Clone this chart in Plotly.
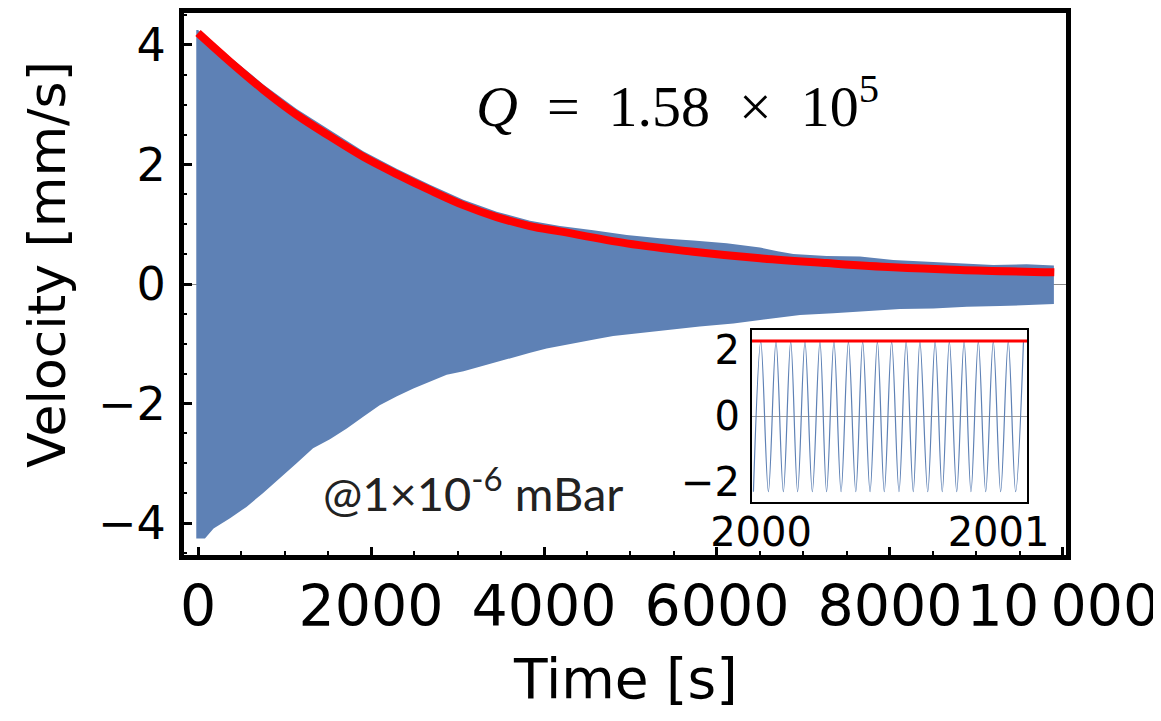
import plotly.graph_objects as go

# ---- main decay envelope ----
env_up_t = [-20, 0, 370, 755, 1141, 1526, 1911, 2297, 2682, 3067, 3453, 3838, 4185, 4570,
            4956, 5341, 5727, 6112, 6497, 6700, 6882, 7268, 7653, 8038, 8423, 8809,
            9194, 9580, 9895]
env_up_v = [4.25, 4.25, 3.80, 3.34, 2.93, 2.57, 2.22, 1.93, 1.66, 1.41, 1.21, 1.06, 0.97, 0.90,
            0.82, 0.765, 0.73, 0.68, 0.61, 0.55, 0.50, 0.47, 0.46, 0.40, 0.37, 0.35,
            0.32, 0.33, 0.31]

env_lo_t = [-20, 80, 180, 370, 560, 750, 950, 1140, 1330, 1525, 1720, 1910, 2100, 2300, 2490,
            2680, 2875, 3070, 3260, 3450, 3645, 3840, 4030, 4220, 4420, 4610, 4800, 5030,
            5420, 5800, 6190, 6570, 6960, 7345, 7730, 8115, 8500, 8890, 9270, 9660, 9895]
env_lo_v = [-4.26, -4.26, -4.09, -3.92, -3.73, -3.50, -3.25, -3.00, -2.75, -2.60, -2.42, -2.22,
            -2.03, -1.88, -1.75, -1.63, -1.52, -1.46, -1.38, -1.30, -1.23, -1.15, -1.08, -1.02,
            -0.97, -0.92, -0.87, -0.83, -0.77, -0.71, -0.66, -0.59, -0.52, -0.49, -0.46,
            -0.42, -0.41, -0.38, -0.37, -0.35, -0.335]

# ---- exponential fit curve ----
fit_t = [0, 370, 755, 1141, 1526, 1911, 2297, 2682, 3067, 3453, 3838, 4185, 4956, 5727,
         6497, 7268, 8038, 8809, 9900]
fit_v = [4.20, 3.72, 3.25, 2.83, 2.47, 2.13, 1.84, 1.57, 1.32, 1.12, 0.97, 0.88, 0.68, 0.54,
         0.43, 0.35, 0.28, 0.235, 0.195]

# ---- inset: oscillation extremes around t = 2000 s ----
inset_peak_t = [1999.999, 2000.063, 2000.125, 2000.185, 2000.248, 2000.307, 2000.368,
                2000.428, 2000.490, 2000.550, 2000.611, 2000.669, 2000.733, 2000.793,
                2000.855, 2000.915, 2000.978, 2001.041, 2001.105]
inset_trough_t = [1999.968, 2000.031, 2000.094, 2000.154, 2000.216, 2000.276, 2000.337,
                  2000.399, 2000.459, 2000.519, 2000.581, 2000.641, 2000.702, 2000.763,
                  2000.824, 2000.884, 2000.946, 2001.009, 2001.072]
inset_peak_v = 2.24
inset_trough_v = -2.28
inset_fit_t = [1999.962, 2001.12]
inset_fit_v = [2.26, 2.26]

x_ticks = [0, 2000, 4000, 6000, 8000, 10000]
x_ticktext = ["0", "2000", "4000", "6000", "8000", "10\u2009000"]
y_ticks = [-4, -2, 0, 2, 4]
inset_x_ticks = [2000, 2001]
inset_y_ticks = [-2, 0, 2]

BLUE = "#5E81B5"
FONT = "DejaVu Sans"

fig = go.Figure()

# envelope filled polygon
poly_t = env_up_t + env_lo_t[::-1]
poly_v = env_up_v + env_lo_v[::-1]
fig.add_trace(go.Scatter(x=poly_t, y=poly_v, fill="toself", fillcolor=BLUE,
                         mode="lines", line=dict(width=0, color=BLUE),
                         hoverinfo="skip", showlegend=False))
fig.add_trace(go.Scatter(x=fit_t, y=fit_v, mode="lines",
                         line=dict(color="#FF0000", width=8, shape="spline", smoothing=1),
                         showlegend=False))

# inset oscillation
ext = sorted([(t, inset_peak_v) for t in inset_peak_t] +
             [(t, inset_trough_v) for t in inset_trough_t])
fig.add_trace(go.Scatter(x=[e[0] for e in ext], y=[e[1] for e in ext], mode="lines",
                         line=dict(color=BLUE, width=1.2, shape="spline", smoothing=1),
                         xaxis="x2", yaxis="y2", showlegend=False))
fig.add_trace(go.Scatter(x=inset_fit_t, y=inset_fit_v, mode="lines",
                         line=dict(color="#FF0000", width=3),
                         xaxis="x2", yaxis="y2", showlegend=False))

# the page body has an 8px margin, so the figure is 8px smaller than the window
fig.update_layout(
    width=1153, height=713,
    margin=dict(l=176, r=95, t=5, b=166, autoexpand=False),
    paper_bgcolor="white", plot_bgcolor="white",
    showlegend=False,
    xaxis=dict(range=[-162, 10035], tickvals=x_ticks, ticktext=x_ticktext,
               ticks="inside", ticklen=8, tickwidth=3, tickcolor="black",
               minor=dict(dtick=500, tick0=0, ticks="inside", ticklen=4, tickwidth=2,
                          tickcolor="black"),
               showline=True, linewidth=5, linecolor="black", mirror=True,
               showgrid=False, zeroline=False, automargin=False,
               tickfont=dict(family=FONT, size=57, color="black"),
               ticklabelstandoff=-2),
    yaxis=dict(range=[-4.535, 4.535], tickvals=y_ticks,
               ticks="inside", ticklen=8, tickwidth=3, tickcolor="black",
               minor=dict(dtick=0.5, tick0=0, ticks="inside", ticklen=3, tickwidth=2,
                          tickcolor="black"),
               showline=True, linewidth=5, linecolor="black", mirror=True,
               showgrid=False, zeroline=True, zerolinecolor="#8a8a8a", zerolinewidth=1,
               automargin=False,
               tickfont=dict(family=FONT, size=46, color="black"),
               ticklabelstandoff=4),
    xaxis2=dict(domain=[0.644, 0.9558], anchor="y2", range=[1999.962, 2001.12],
                tickvals=inset_x_ticks, ticks="", showline=True, linewidth=2,
                linecolor="black", mirror=True, showgrid=False, zeroline=False,
                automargin=False,
                tickfont=dict(family=FONT, size=40, color="black"), ticklabelstandoff=-6),
    yaxis2=dict(domain=[0.0978, 0.415], anchor="x2", range=[-2.59, 2.59],
                tickvals=inset_y_ticks, ticks="", showline=True, linewidth=2,
                linecolor="black", mirror=True, showgrid=False, zeroline=True,
                zerolinecolor="#9a9a9a", zerolinewidth=1, automargin=False,
                tickfont=dict(family=FONT, size=40, color="black"), ticklabelstandoff=2),
    annotations=[
        dict(text="Time [s]", xref="paper", yref="paper", x=0.501, y=-0.229,
             xanchor="center", yanchor="middle", showarrow=False,
             font=dict(family=FONT, size=55, color="black")),
        dict(text="Velocity [mm/s]", xref="paper", yref="paper", x=-0.1553, y=0.535,
             xanchor="center", yanchor="middle", showarrow=False, textangle=-90,
             font=dict(family=FONT, size=52, color="black")),
        dict(text="<i>Q</i>\u2002=\u20021.58\u2002×\u200210<sup>5</sup>", xref="paper",
             yref="paper", x=0.559, y=0.834, xanchor="center", yanchor="middle",
             showarrow=False, font=dict(family="Liberation Serif", size=58, color="black")),
        dict(text="@1×10<sup>-6</sup> mBar", xref="paper", yref="paper", x=0.3277, y=0.12,
             xanchor="center", yanchor="middle", showarrow=False,
             font=dict(family="Lato", size=47, color="#222222")),
    ],
)

fig.write_html("out.html")
